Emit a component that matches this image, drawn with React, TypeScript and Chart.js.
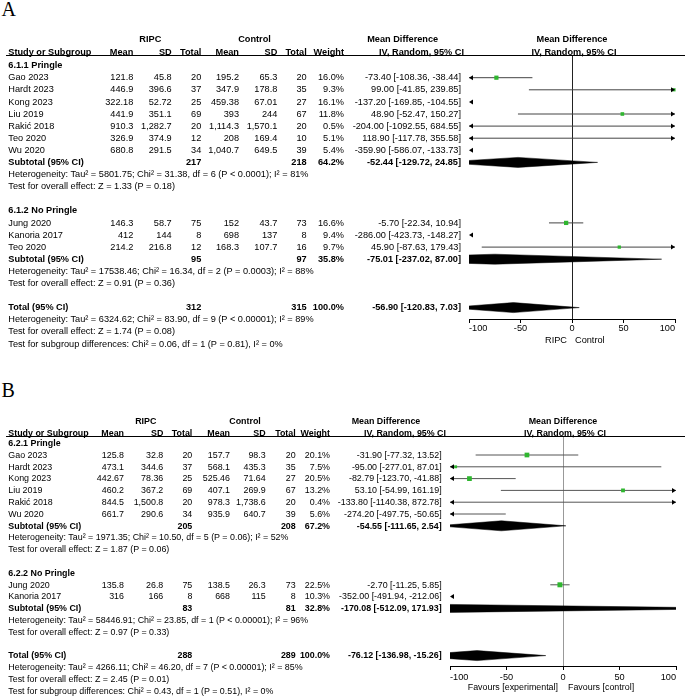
import React, { useEffect, useRef } from 'react';
import { Chart, registerables } from 'chart.js';

Chart.register(...registerables);

const PAGE_W = 685;
const PAGE_H = 698;
const SANS = '"Liberation Sans", Arial, Helvetica, sans-serif';
const SERIF = '"Liberation Serif", "Times New Roman", Times, serif';
const SQUARE_COLOR = '#2fb62f';

// ================= Panel A data =================
const a1Title = '6.1.1 Pringle';
const a1Studies = ['Gao 2023', 'Hardt 2023', 'Kong 2023', 'Liu 2019', 'Rakić 2018', 'Teo 2020', 'Wu 2020'];
const a1RipcMean = [121.8, 446.9, 322.18, 441.9, 910.3, 326.9, 680.8];
const a1RipcSD = [45.8, 396.6, 52.72, 351.1, 1282.7, 374.9, 291.5];
const a1RipcN = [20, 37, 25, 69, 20, 12, 34];
const a1CtrlMean = [195.2, 347.9, 459.38, 393, 1114.3, 208, 1040.7];
const a1CtrlSD = [65.3, 178.8, 67.01, 244, 1570.1, 169.4, 649.5];
const a1CtrlN = [20, 35, 27, 67, 20, 10, 39];
const a1Weight = [16.0, 9.3, 16.1, 11.8, 0.5, 5.1, 5.4];
const a1MD = [-73.4, 99.0, -137.2, 48.9, -204.0, 118.9, -359.9];
const a1Lo = [-108.36, -41.85, -169.85, -52.47, -1092.55, -117.78, -586.07];
const a1Hi = [-38.44, 239.85, -104.55, 150.27, 684.55, 355.58, -133.73];
// [ripcTotal, controlTotal, weight, md, lo, hi]
const a1Summary = [217, 218, 64.2, -52.44, -129.72, 24.85];
const a1Notes = [
  'Heterogeneity: Tau² = 5801.75; Chi² = 31.38, df = 6 (P < 0.0001); I² = 81%',
  'Test for overall effect: Z = 1.33 (P = 0.18)',
];

const a2Title = '6.1.2 No Pringle';
const a2Studies = ['Jung 2020', 'Kanoria 2017', 'Teo 2020'];
const a2RipcMean = [146.3, 412, 214.2];
const a2RipcSD = [58.7, 144, 216.8];
const a2RipcN = [75, 8, 12];
const a2CtrlMean = [152, 698, 168.3];
const a2CtrlSD = [43.7, 137, 107.7];
const a2CtrlN = [73, 8, 16];
const a2Weight = [16.6, 9.4, 9.7];
const a2MD = [-5.7, -286.0, 45.9];
const a2Lo = [-22.34, -423.73, -87.63];
const a2Hi = [10.94, -148.27, 179.43];
const a2Summary = [95, 97, 35.8, -75.01, -237.02, 87.0];
const a2Notes = [
  'Heterogeneity: Tau² = 17538.46; Chi² = 16.34, df = 2 (P = 0.0003); I² = 88%',
  'Test for overall effect: Z = 0.91 (P = 0.36)',
];

const aTotalSummary = [312, 315, 100.0, -56.9, -120.83, 7.03];
const aTotalNotes = [
  'Heterogeneity: Tau² = 6324.62; Chi² = 83.90, df = 9 (P < 0.00001); I² = 89%',
  'Test for overall effect: Z = 1.74 (P = 0.08)',
  'Test for subgroup differences: Chi² = 0.06, df = 1 (P = 0.81), I² = 0%',
];
const aAxisLabels = ['RIPC', 'Control'];

// ================= Panel B data =================
const b1Title = '6.2.1 Pringle';
const b1Studies = ['Gao 2023', 'Hardt 2023', 'Kong 2023', 'Liu 2019', 'Rakić 2018', 'Wu 2020'];
const b1RipcMean = [125.8, 473.1, 442.67, 460.2, 844.5, 661.7];
const b1RipcSD = [32.8, 344.6, 78.36, 367.2, 1500.8, 290.6];
const b1RipcN = [20, 37, 25, 69, 20, 34];
const b1CtrlMean = [157.7, 568.1, 525.46, 407.1, 978.3, 935.9];
const b1CtrlSD = [98.3, 435.3, 71.64, 269.9, 1738.6, 640.7];
const b1CtrlN = [20, 35, 27, 67, 20, 39];
const b1Weight = [20.1, 7.5, 20.5, 13.2, 0.4, 5.6];
const b1MD = [-31.9, -95.0, -82.79, 53.1, -133.8, -274.2];
const b1Lo = [-77.32, -277.01, -123.7, -54.99, -1140.38, -497.75];
const b1Hi = [13.52, 87.01, -41.88, 161.19, 872.78, -50.65];
const b1Summary = [205, 208, 67.2, -54.55, -111.65, 2.54];
const b1Notes = [
  'Heterogeneity: Tau² = 1971.35; Chi² = 10.50, df = 5 (P = 0.06); I² = 52%',
  'Test for overall effect: Z = 1.87 (P = 0.06)',
];

const b2Title = '6.2.2 No Pringle';
const b2Studies = ['Jung 2020', 'Kanoria 2017'];
const b2RipcMean = [135.8, 316];
const b2RipcSD = [26.8, 166];
const b2RipcN = [75, 8];
const b2CtrlMean = [138.5, 668];
const b2CtrlSD = [26.3, 115];
const b2CtrlN = [73, 8];
const b2Weight = [22.5, 10.3];
const b2MD = [-2.7, -352.0];
const b2Lo = [-11.25, -491.94];
const b2Hi = [5.85, -212.06];
const b2Summary = [83, 81, 32.8, -170.08, -512.09, 171.93];
const b2Notes = [
  'Heterogeneity: Tau² = 58446.91; Chi² = 23.85, df = 1 (P < 0.00001); I² = 96%',
  'Test for overall effect: Z = 0.97 (P = 0.33)',
];

const bTotalSummary = [288, 289, 100.0, -76.12, -136.98, -15.26];
const bTotalNotes = [
  'Heterogeneity: Tau² = 4266.11; Chi² = 46.20, df = 7 (P < 0.00001); I² = 85%',
  'Test for overall effect: Z = 2.45 (P = 0.01)',
  'Test for subgroup differences: Chi² = 0.43, df = 1 (P = 0.51), I² = 0%',
];
const bAxisLabels = ['Favours [experimental]', 'Favours [control]'];

const xTicks = [-100, -50, 0, 50, 100];

// ================= assembly =================
function group(title, studies, rm, rs, rn, cm, cs, cn, w, md, lo, hi, summary, notes) {
  return { title, studies, rm, rs, rn, cm, cs, cn, w, md, lo, hi, summary, notes };
}

const groupsA = [
  group(a1Title, a1Studies, a1RipcMean, a1RipcSD, a1RipcN, a1CtrlMean, a1CtrlSD, a1CtrlN, a1Weight, a1MD, a1Lo, a1Hi, a1Summary, a1Notes),
  group(a2Title, a2Studies, a2RipcMean, a2RipcSD, a2RipcN, a2CtrlMean, a2CtrlSD, a2CtrlN, a2Weight, a2MD, a2Lo, a2Hi, a2Summary, a2Notes),
];
const groupsB = [
  group(b1Title, b1Studies, b1RipcMean, b1RipcSD, b1RipcN, b1CtrlMean, b1CtrlSD, b1CtrlN, b1Weight, b1MD, b1Lo, b1Hi, b1Summary, b1Notes),
  group(b2Title, b2Studies, b2RipcMean, b2RipcSD, b2RipcN, b2CtrlMean, b2CtrlSD, b2CtrlN, b2Weight, b2MD, b2Lo, b2Hi, b2Summary, b2Notes),
];

// layout (positions & styles only)
const layoutA = {
  label: 'A', labelX: 1.5, labelTop: -0.8,
  font: 9.2, y0: 77.7, pitch: 12.1, yHead1: 39.6, yHead2: 52.3, underline: 55,
  cols: { m1: 133.3, s1: 171.7, n1: 201.3, m2: 239, s2: 277.3, n2: 306.7, w: 344, ci: 461, ivHdr: 464, mdHdr: 402.7, ripc: 150.3, ctrl: 254.5 },
  plot: { left: 469, right: 675, top: 56, axis: 319, canvasTop: 40, canvasH: 300, hdr1: 572, hdr2: 574 },
  zeroColor: '#222', ciColor: '#444', tickPad: 0,
  axisLabelY: 340, axisLabelGapL: 5, axisLabelGapR: 3,
  squareScale: 1.05, diamondPx: 5,
};
const layoutB = {
  label: 'B', labelX: 1.5, labelTop: 380,
  font: 8.9, y0: 455, pitch: 11.8, yHead1: 420.8, yHead2: 432.8, underline: 436,
  cols: { m1: 124, s1: 163.3, n1: 192.3, m2: 230, s2: 265.7, n2: 295.7, w: 330, ci: 441.7, ivHdr: 446, mdHdr: 386, ripc: 145.8, ctrl: 245 },
  plot: { left: 450, right: 676, top: 437, axis: 666, canvasTop: 420, canvasH: 267, hdr1: 563, hdr2: 565 },
  zeroColor: '#999', ciColor: '#555', tickPad: 1.5,
  axisLabelY: 687, axisLabelGapL: 5, axisLabelGapR: 5,
  squareScale: 1.05, diamondPx: 5,
};

function buildItems(groups, totalSummary, totalNotes) {
  const items = [];
  let k = -1;
  groups.forEach((g) => {
    items.push({ kind: 'title', k, text: g.title });
    k++;
    g.studies.forEach((name, i) => {
      items.push({ kind: 'study', k, name, i, g });
      k++;
    });
    items.push({ kind: 'summary', k, label: 'Subtotal (95% CI)', s: g.summary });
    k++;
    g.notes.forEach((t) => {
      items.push({ kind: 'note', k, text: t });
      k++;
    });
    k++; // blank row
  });
  items.push({ kind: 'summary', k, label: 'Total (95% CI)', s: totalSummary });
  k++;
  totalNotes.forEach((t) => {
    items.push({ kind: 'note', k, text: t });
    k++;
  });
  return items;
}

const fmtNum = (v) => v.toLocaleString('en-US', { maximumFractionDigits: 2 });
const fmtCI = (md, lo, hi) => `${md.toFixed(2)} [${lo.toFixed(2)}, ${hi.toFixed(2)}]`;
const fmtW = (w) => `${w.toFixed(1)}%`;

function Txt({ x, y, s, align = 'left', bold = false, size, color = '#000' }) {
  const style: any = {
    position: 'absolute',
    top: y - 0.58 * size,
    fontSize: size,
    lineHeight: 1.15,
    fontFamily: SANS,
    fontWeight: bold ? 'bold' : 'normal',
    whiteSpace: 'nowrap',
    color,
  };
  if (align === 'left') style.left = x;
  else if (align === 'right') style.right = PAGE_W - x;
  else {
    style.left = x - 200;
    style.width = 400;
    style.textAlign = 'center';
  }
  return <div style={style}>{s}</div>;
}

function ForestChart({ items, L }) {
  const ref = useRef(null);
  useEffect(() => {
    const studies = items
      .filter((it) => it.kind === 'study')
      .map((it) => ({ k: it.k, md: it.g.md[it.i], lo: it.g.lo[it.i], hi: it.g.hi[it.i], w: it.g.w[it.i] }));
    const sums = items
      .filter((it) => it.kind === 'summary')
      .map((it) => ({ k: it.k, md: it.s[3], lo: it.s[4], hi: it.s[5] }));

    const P = L.plot;
    const yMin = -(L.y0 - P.top) / L.pitch;
    const yMax = yMin + (P.axis - P.top) / L.pitch;
    const dh = L.diamondPx / L.pitch;

    const datasets: any[] = [];
    datasets.push({
      type: 'scatter',
      data: studies.map((s) => ({ x: s.md, y: s.k })),
      pointStyle: 'rect',
      pointRadius: studies.map((s) => (L.squareScale * Math.sqrt(s.w)) / Math.SQRT2),
      backgroundColor: SQUARE_COLOR,
      borderWidth: 0,
      showLine: false,
      clip: 3,
    });
    studies.forEach((s) => {
      datasets.push({
        type: 'line',
        data: [{ x: s.lo, y: s.k }, { x: s.hi, y: s.k }],
        borderColor: L.ciColor,
        borderWidth: 1,
        pointRadius: 0,
        fill: false,
      });
    });
    sums.forEach((s) => {
      datasets.push({
        type: 'line',
        data: [{ x: s.lo, y: s.k }, { x: s.md, y: s.k - dh }, { x: s.hi, y: s.k }],
        borderColor: '#000',
        borderWidth: 0.5,
        pointRadius: 0,
        fill: false,
      });
      datasets.push({
        type: 'line',
        data: [{ x: s.lo, y: s.k }, { x: s.md, y: s.k + dh }, { x: s.hi, y: s.k }],
        borderColor: '#000',
        borderWidth: 0.5,
        pointRadius: 0,
        fill: '-1',
        backgroundColor: '#000',
      });
    });

    const arrows = {
      id: 'ciArrows',
      afterDatasetsDraw(chart) {
        const { ctx, chartArea } = chart;
        const xs = chart.scales.x;
        const ys = chart.scales.y;
        ctx.save();
        ctx.fillStyle = '#000';
        studies.forEach((s) => {
          const py = ys.getPixelForValue(s.k);
          if (s.lo < xs.min) {
            const x0 = chartArea.left;
            ctx.beginPath();
            ctx.moveTo(x0, py);
            ctx.lineTo(x0 + 4, py - 2.5);
            ctx.lineTo(x0 + 4, py + 2.5);
            ctx.closePath();
            ctx.fill();
          }
          if (s.hi > xs.max) {
            const x1 = chartArea.right;
            ctx.beginPath();
            ctx.moveTo(x1, py);
            ctx.lineTo(x1 - 4, py - 2.5);
            ctx.lineTo(x1 - 4, py + 2.5);
            ctx.closePath();
            ctx.fill();
          }
        });
        ctx.restore();
      },
    };

    const chart = new Chart(ref.current, {
      type: 'scatter',
      data: { datasets },
      plugins: [arrows],
      options: {
        animation: false,
        responsive: false,
        events: [],
        layout: { padding: { left: P.left, right: PAGE_W - P.right, top: P.top - P.canvasTop, bottom: 0 } },
        plugins: { legend: { display: false }, tooltip: { enabled: false } },
        scales: {
          x: {
            type: 'linear',
            min: xTicks[0],
            max: xTicks[xTicks.length - 1],
            afterBuildTicks: (scale) => {
              scale.ticks = xTicks.map((v) => ({ value: v }));
            },
            afterFit: (scale) => {
              scale.height = P.canvasTop + P.canvasH - P.axis;
            },
            ticks: {
              align: 'inner',
              maxRotation: 0,
              autoSkip: false,
              padding: L.tickPad,
              color: '#000',
              font: { family: SANS, size: 9.2 },
            },
            grid: {
              drawOnChartArea: true,
              color: (ctx) => (ctx.tick && ctx.tick.value === 0 ? L.zeroColor : 'rgba(0,0,0,0)'),
              tickColor: '#000',
              tickLength: 4,
              lineWidth: 1,
            },
            border: { display: true, color: '#000', width: 1 },
          },
          y: { type: 'linear', display: false, reverse: true, min: yMin, max: yMax },
        },
      },
    });
    return () => chart.destroy();
  }, [items, L]);

  return (
    <canvas
      ref={ref}
      width={PAGE_W}
      height={L.plot.canvasH}
      style={{ position: 'absolute', left: 0, top: L.plot.canvasTop, width: PAGE_W, height: L.plot.canvasH }}
    />
  );
}

function Panel({ L, groups, totalSummary, totalNotes, axisLabels }) {
  const items = React.useMemo(() => buildItems(groups, totalSummary, totalNotes), [groups, totalSummary, totalNotes]);
  const f = L.font;
  const C = L.cols;
  const rowY = (k) => L.y0 + L.pitch * k;
  const out: any[] = [];
  let n = 0;
  const T = (x, y, s, align = 'left', bold = false) => {
    out.push(<Txt key={n++} x={x} y={y} s={s} align={align} bold={bold} size={f} />);
  };

  // headers
  T(C.ripc, L.yHead1, 'RIPC', 'center', true);
  T(C.ctrl, L.yHead1, 'Control', 'center', true);
  T(C.mdHdr, L.yHead1, 'Mean Difference', 'center', true);
  T(L.plot.hdr1, L.yHead1, 'Mean Difference', 'center', true);
  T(8.3, L.yHead2, 'Study or Subgroup', 'left', true);
  T(C.m1, L.yHead2, 'Mean', 'right', true);
  T(C.s1, L.yHead2, 'SD', 'right', true);
  T(C.n1, L.yHead2, 'Total', 'right', true);
  T(C.m2, L.yHead2, 'Mean', 'right', true);
  T(C.s2, L.yHead2, 'SD', 'right', true);
  T(C.n2, L.yHead2, 'Total', 'right', true);
  T(C.w, L.yHead2, 'Weight', 'right', true);
  T(C.ivHdr, L.yHead2, 'IV, Random, 95% CI', 'right', true);
  T(L.plot.hdr2, L.yHead2, 'IV, Random, 95% CI', 'center', true);

  items.forEach((it) => {
    const y = rowY(it.k);
    if (it.kind === 'title') T(8.3, y, it.text, 'left', true);
    else if (it.kind === 'note') T(8.3, y, it.text, 'left', false);
    else if (it.kind === 'study') {
      const g = it.g;
      const i = it.i;
      T(8.3, y, it.name);
      T(C.m1, y, fmtNum(g.rm[i]), 'right');
      T(C.s1, y, fmtNum(g.rs[i]), 'right');
      T(C.n1, y, String(g.rn[i]), 'right');
      T(C.m2, y, fmtNum(g.cm[i]), 'right');
      T(C.s2, y, fmtNum(g.cs[i]), 'right');
      T(C.n2, y, String(g.cn[i]), 'right');
      T(C.w, y, fmtW(g.w[i]), 'right');
      T(C.ci, y, fmtCI(g.md[i], g.lo[i], g.hi[i]), 'right');
    } else if (it.kind === 'summary') {
      const s = it.s;
      T(8.3, y, it.label, 'left', true);
      T(C.n1, y, String(s[0]), 'right', true);
      T(C.n2, y, String(s[1]), 'right', true);
      T(C.w, y, fmtW(s[2]), 'right', true);
      T(C.ci, y, fmtCI(s[3], s[4], s[5]), 'right', true);
    }
  });

  const zeroPx = (L.plot.left + L.plot.right) / 2;
  T(zeroPx - L.axisLabelGapL, L.axisLabelY, axisLabels[0], 'right');
  T(zeroPx + L.axisLabelGapR, L.axisLabelY, axisLabels[1], 'left');

  return (
    <>
      <ForestChart items={items} L={L} />
      <div
        style={{
          position: 'absolute',
          left: L.labelX,
          top: L.labelTop,
          fontFamily: SERIF,
          fontSize: 20,
          lineHeight: '20px',
          color: '#000',
        }}
      >
        {L.label}
      </div>
      <div style={{ position: 'absolute', left: 6, top: L.underline, width: PAGE_W - 6, height: 1, background: '#000' }} />
      {out}
    </>
  );
}

export default function App() {
  return (
    <div
      style={{
        position: 'absolute',
        left: 0,
        top: 0,
        width: PAGE_W,
        height: PAGE_H,
        overflow: 'hidden',
        background: '#fff',
      }}
    >
      <Panel L={layoutA} groups={groupsA} totalSummary={aTotalSummary} totalNotes={aTotalNotes} axisLabels={aAxisLabels} />
      <Panel L={layoutB} groups={groupsB} totalSummary={bTotalSummary} totalNotes={bTotalNotes} axisLabels={bAxisLabels} />
    </div>
  );
}
